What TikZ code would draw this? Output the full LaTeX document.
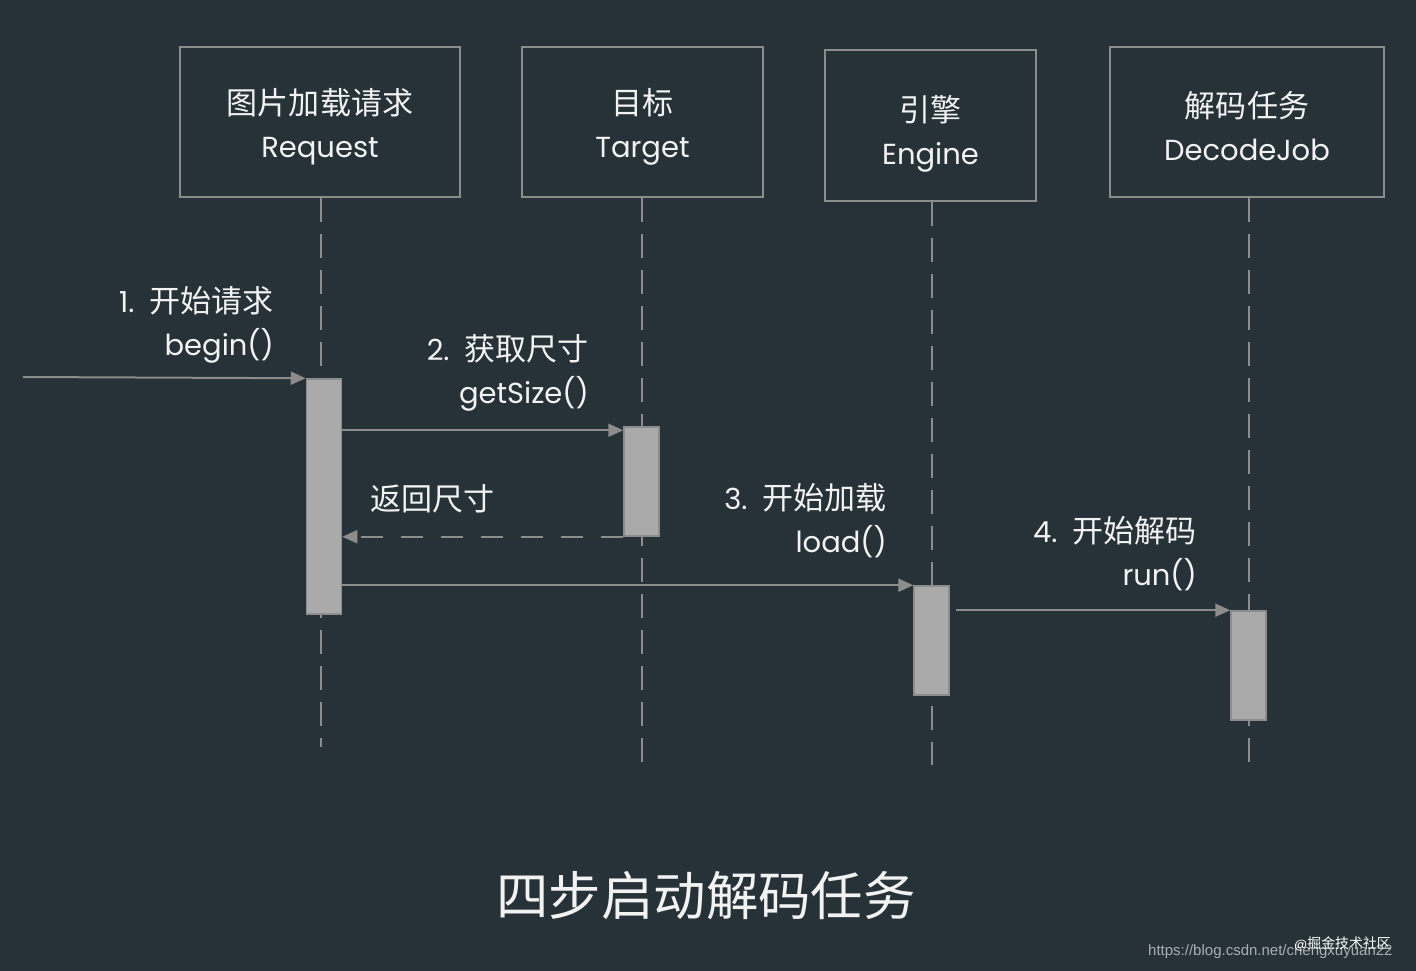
\documentclass[tikz,border=0pt]{standalone}
\usepackage{fontspec}
\setmainfont{Poppins}
\newfontfamily\cjk[Scale=1.07]{Noto Sans CJK SC}
\newfontfamily\webfont{Liberation Sans}
\newcommand{\zh}[1]{{\cjk #1}}
\newcommand{\lift}[1]{\rule{0pt}{#1}}
\usetikzlibrary{arrows.meta,positioning}
\definecolor{bgslate}{HTML}{263238}
\definecolor{linegray}{HTML}{8C8C8C}
\definecolor{barfill}{HTML}{AAAAAA}
\definecolor{textwhite}{HTML}{F2F2F2}
\definecolor{markgray}{HTML}{A9AEB1}

\begin{document}
\begin{tikzpicture}[
  x=1pt, y=-1pt,
  actor/.style={
    draw=linegray,
    line width=1.5pt,
    align=center,
    text=textwhite,
    font=\fontsize{29}{43}\selectfont,
    inner sep=0pt,
    minimum height=150pt
  },
  lifeline/.style={linegray, line width=2pt, dash pattern=on 24pt off 12pt},
  bar/.style={
    draw=linegray,
    fill=barfill,
    line width=1.5pt,
    minimum width=35pt,
    inner sep=0pt
  },
  msg/.style={-{Triangle[length=15pt,width=13pt]}, linegray, line width=2pt},
  reply/.style={msg, dash pattern=on 22pt off 18pt},
  msgtext/.style={text=textwhite, font=\fontsize{29}{43}\selectfont, inner sep=0pt}
]

\fill[bgslate] (0,0) rectangle (1416,971);
\useasboundingbox (0,0) rectangle (1416,971);

% participants
\node[actor, minimum width=280pt] (request) at (320,122)
  {\lift{35pt}\zh{图片加载请求}\\Request};
\node[actor, minimum width=241pt] (target) at (642.5,122)
  {\lift{35pt}\zh{目标}\\Target};
\node[actor, minimum width=211pt, minimum height=151pt] (engine) at (930.5,125.5)
  {\lift{42pt}\zh{引擎}\\Engine};
\node[actor, minimum width=274pt] (decodejob) at (1247,122)
  {\lift{35pt}\zh{解码任务}\\DecodeJob};

% lifelines
\coordinate (reqend) at (321,747);
\coordinate (tgtend) at (642,765);
\coordinate (engend) at (932,765);
\coordinate (jobend) at (1249,765);
\draw[lifeline] (request.south -| reqend) -- (reqend);
\draw[lifeline] (target.south -| tgtend) -- (tgtend);
\draw[lifeline] (engine.south -| engend) -- (engend);
\draw[lifeline] (decodejob.south -| jobend) -- (jobend);

% activations
\node[bar, minimum height=235pt] (reqbar) at (324,496.5) {};
\node[bar, minimum height=109pt] (tgtbar) at (641.5,481.5) {};
\node[bar, minimum height=109pt] (engbar) at (931.5,640.5) {};
\node[bar, minimum height=109pt] (jobbar) at (1248.5,665.5) {};

% messages
\coordinate (entry) at (23,377);
\draw[msg] (entry) -- (reqbar.north west);
\draw[msg] ([yshift=-4pt]reqbar.east |- tgtbar.north west) -- ([yshift=-4pt]tgtbar.north west);
\draw[reply] (tgtbar.south west) -- (reqbar.east |- tgtbar.south west);
\draw[msg] (reqbar.east |- engbar.north west) -- (engbar.north west);
\draw[msg] ([xshift=6pt]engbar.east |- jobbar.north west) -- (jobbar.north west);

\node[msgtext, anchor=east, align=right] (begintext) at (274,324.5)
  {1.\, \zh{开始请求}\\begin()};
\node[msgtext, anchor=east, align=right] (sizetext) at (589,372.5)
  {2.\, \zh{获取尺寸}\\getSize()};
\node[msgtext, anchor=west] (backtext) at (370,499)
  {\zh{返回尺寸}};
\node[msgtext, anchor=east, align=right] (loadtext) at (887,521)
  {3.\, \zh{开始加载}\\load()};
\node[msgtext, anchor=east, align=right] (runtext) at (1197,554)
  {4.\, \zh{开始解码}\\run()};

% caption
\node[text=textwhite, font=\fontsize{49}{58}\selectfont] (caption) at (706,896)
  {\zh{四步启动解码任务}};

% watermark
\node[text=markgray, font=\webfont\fontsize{15}{18}\selectfont, anchor=west, inner sep=0pt] (weburl) at (1148,952)
  {https://blog.csdn.net/chengxuyuan22};
\node[text=white, font=\fontsize{13}{16}\selectfont, anchor=west, inner sep=0pt] (juejin) at (1294,944)
  {@\zh{掘金技术社区}};

\end{tikzpicture}
\end{document}
